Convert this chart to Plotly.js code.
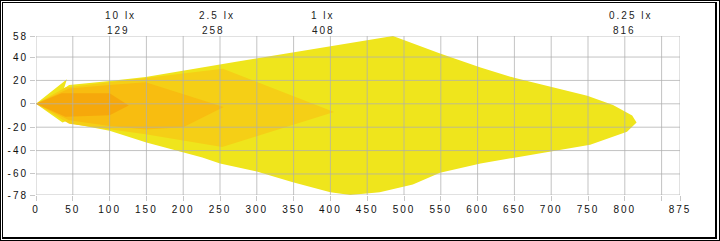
<!DOCTYPE html>
<html>
<head>
<meta charset="utf-8">
<script src="https://cdn.plot.ly/plotly-3.0.1.min.js"></script>
<style>
  html, body { margin:0; padding:0; background:#fff; }
  #chart { position:absolute; left:0; top:0; width:720px; height:241px; }
  #outer { position:absolute; left:0; top:0; width:720px; height:241px; box-sizing:border-box; border:1px solid #000; pointer-events:none; }
  #inner { position:absolute; left:2px; top:2px; width:715px; height:237px; box-sizing:border-box; border-style:solid; border-color:#000; border-width:1px 2px 2px 1px; pointer-events:none; }
  #chart text { letter-spacing: 2px; }
</style>
</head>
<body>
<div id="chart"></div>
<div id="outer"></div>
<div id="inner"></div>
<script>
// Illuminance levels (lux) and their reach (m)
const luxLabels = ["10 lx", "2.5 lx", "1 lx", "0.25 lx"];
const luxDistances = [129, 258, 408, 816];

// Isolux contours (x = distance, y = lateral), outer to inner
const x025 = [0, 42, 38, 45, 100, 149, 272, 450, 485, 549, 604, 651, 749, 784, 810, 816, 803, 753, 699, 649, 604, 549, 512, 467, 427, 400, 349, 300, 250, 226, 150, 100, 50, 44, 36, 0];
const y025 = [0, 21, 13, 16, 19.5, 23, 36, 54, 58, 43, 31, 22, 7, -1, -10, -16, -24, -35, -41, -46, -51, -59, -69, -75.6, -78, -75.6, -67, -58, -51, -46, -33, -23, -17, -14, -16, 0];

const x1 = [0, 40, 100, 149, 254, 405, 253, 149, 45, 0];
const y1 = [0, 14, 18.5, 22, 30, -7, -37, -26, -17, 0];

const x25 = [0, 45, 100, 149, 255, 200, 149, 100, 45, 0];
const y25 = [0, 13, 16, 18.5, -2.8, -20, -22, -19, -14, 0];

const x10 = [0, 35, 100, 126, 100, 40, 0];
const y10 = [0, 9, 9, -1.4, -9.7, -11, 0];

const xTicks = [0, 50, 100, 150, 200, 250, 300, 350, 400, 450, 500, 550, 600, 650, 700, 750, 800, 850, 875];
const xTickText = ["0", "50", "100", "150", "200", "250", "300", "350", "400", "450", "500", "550", "600", "650", "700", "750", "800", "", "875"];
const yTicks = [58, 40, 20, 0, -20, -40, -60, -78];
const yTickText = ["58", "40", "20", "0", "-20", "-40", "-60", "-78"];

const colors = ["#EFE51C", "#F5CF16", "#F8BD10", "#F6A80B"];
const layers = [[x025, y025], [x1, y1], [x25, y25], [x10, y10]];

const traces = layers.map((l, i) => ({
  x: l[0], y: l[1], type: "scatter", mode: "lines", fill: "toself",
  fillcolor: colors[i], line: { width: 0, color: colors[i] }, hoverinfo: "skip", showlegend: false
}));

const xMin = 0, xMax = 875, yMin = -78, yMax = 58;
const gridColor = "rgba(175,175,175,0.75)";
const shapes = [];
xTicks.forEach(v => shapes.push({ type: "line", xref: "x", yref: "y", x0: v, x1: v, y0: yMin, y1: yMax, layer: "above", line: { color: gridColor, width: 1 } }));
yTicks.forEach(v => shapes.push({ type: "line", xref: "x", yref: "y", x0: xMin, x1: xMax, y0: v, y1: v, layer: "above", line: { color: gridColor, width: 1 } }));

const annFont = { family: "Liberation Sans, Arial, sans-serif", size: 10, color: "#222" };
const annotations = [];
luxDistances.forEach((d, i) => {
  annotations.push({ x: d, xref: "x", y: 1, yref: "paper", yanchor: "bottom", xanchor: "left", xshift: -23, yshift: -2, text: String(d), showarrow: false, font: annFont });
  annotations.push({ x: d, xref: "x", y: 1, yref: "paper", yanchor: "bottom", xanchor: "left", xshift: -23, yshift: 13, text: luxLabels[i], showarrow: false, font: annFont });
});

const tickFont = { family: "Liberation Sans, Arial, sans-serif", size: 10, color: "#111" };
const layout = {
  width: 720, height: 241,
  margin: { l: 36, r: 40, t: 36, b: 46 },
  paper_bgcolor: "#fff", plot_bgcolor: "#fff",
  showlegend: false,
  xaxis: { range: [xMin, xMax], tickvals: xTicks, ticktext: xTickText, showgrid: false, zeroline: false, showline: false,
           ticks: "outside", ticklen: 5, tickcolor: "#c8c8c8", tickfont: tickFont, fixedrange: true },
  yaxis: { range: [yMin, yMax], tickvals: yTicks, ticktext: yTickText, showgrid: false, zeroline: false, showline: false,
           ticks: "outside", ticklen: 5, tickcolor: "#c8c8c8", tickfont: tickFont, fixedrange: true },
  shapes: shapes,
  annotations: annotations
};

Plotly.newPlot("chart", traces, layout, { displayModeBar: false, staticPlot: true });
</script>
</body>
</html>
